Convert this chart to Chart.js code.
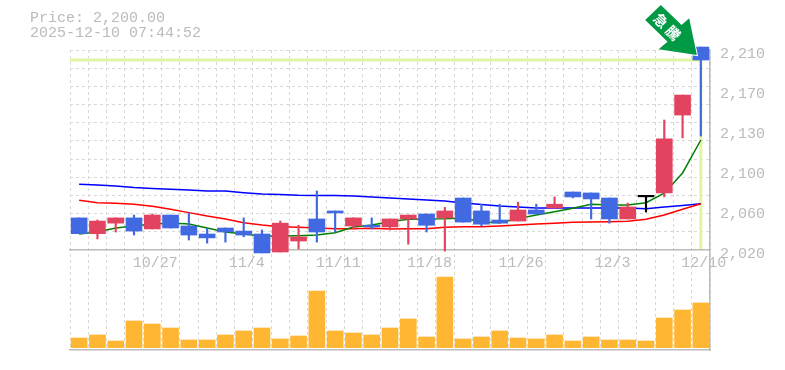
<!DOCTYPE html>
<html lang="ja">
<head>
<meta charset="utf-8">
<title>Price chart</title>
<script src="https://cdn.jsdelivr.net/npm/chart.js@4/dist/chart.umd.min.js"></script>
<style>
  html, body { margin: 0; padding: 0; background: #fff; }
  #wrap { width: 785px; height: 370px; }
</style>
</head>
<body>
<div id="wrap"><canvas id="price-chart" width="785" height="370"></canvas></div>
<script>
const titleLines = ["Price: 2,200.00", "2025-12-10 07:44:52"];
const badgeText = ["急", "騰"];

const dates = [
  "10/21", "10/22", "10/23", "10/24", "10/27", "10/28", "10/29", "10/30", "10/31", "11/4",
  "11/5", "11/6", "11/7", "11/10", "11/11", "11/12", "11/13", "11/14", "11/17", "11/18",
  "11/19", "11/20", "11/21", "11/25", "11/26", "11/27", "11/28", "12/1", "12/2", "12/3",
  "12/4", "12/5", "12/8", "12/9", "12/10",
];

const opens = [
  2050, 2035, 2045, 2050, 2039.5, 2052.7, 2042.3, 2034.7, 2040.4, 2037.5,
  2034.7, 2017.6, 2028, 2049, 2056.6, 2042.3, 2043, 2041.4, 2049, 2053.7,
  2050, 2068.9, 2056.6, 2048, 2047, 2057.5, 2059.4, 2074.6, 2073.7, 2068.9,
  2049, 2070, 2073.7, 2147.7, 2212.3,
];
const closes = [
  2035, 2047, 2050, 2037.5, 2052.7, 2040.4, 2033.7, 2031, 2036.6, 2033.7,
  2016.7, 2045, 2031.9, 2036.6, 2054.7, 2050, 2041.4, 2049, 2052.7, 2043,
  2056.6, 2046, 2044, 2045, 2057.5, 2053.7, 2063, 2069.9, 2068, 2049,
  2060.4, 2070, 2125, 2166.7, 2200,
];
const highs = [
  2050, 2048, 2050, 2052.7, 2053.7, 2052.7, 2054.6, 2040, 2040.4, 2050,
  2038.5, 2047, 2043, 2075.6, 2056.6, 2050, 2050, 2049, 2052.7, 2053.7,
  2060, 2068.9, 2063, 2063, 2065, 2063, 2069.9, 2074.6, 2073.7, 2068.9,
  2064, 2070, 2143, 2166.7, 2212.3,
];
const lows = [
  2035, 2030, 2036.6, 2033.7, 2039.5, 2040.4, 2029, 2026, 2027, 2032,
  2016.7, 2017.6, 2020.5, 2027, 2036.6, 2039.5, 2039.5, 2038.5, 2025, 2036.6,
  2018.5, 2046, 2042.3, 2045, 2047, 2053.7, 2059.4, 2069, 2049, 2045,
  2049, 2055.6, 2070, 2126, 2127.8,
];
const volumes = [
  97, 127, 67, 267, 237, 197, 77, 77, 127, 167,
  197, 87, 117, 567, 167, 147, 127, 197, 287, 107,
  707, 87, 107, 167, 97, 87, 127, 67, 107, 77,
  77, 67, 297, 377, 447,
];
const maShort = [
  2034.7, 2036.6, 2040.4, 2042.3, 2044.2, 2045.2, 2044.2, 2040.4, 2036.6, 2034.7,
  2032.8, 2032.8, 2033.1, 2033.7, 2035.9, 2041.4, 2043.3, 2046.4, 2048.7, 2049,
  2049.3, 2050, 2046, 2045.4, 2049.3, 2052.7, 2055.9, 2059.1, 2062.9, 2062.3,
  2062.3, 2064.4, 2073.4, 2092.7, 2124,
];
const maMid = [
  2066.7, 2064.4, 2063.9, 2062.9, 2061, 2058.2, 2055, 2051.8, 2049, 2045.4,
  2043.3, 2041.6, 2041, 2040.4, 2039.8, 2039.8, 2040.2, 2039.5, 2039.8, 2039.8,
  2041, 2041.6, 2041.6, 2042.3, 2043.3, 2044.2, 2044.9, 2045.8, 2046.1, 2046.4,
  2046.8, 2048.7, 2052.7, 2058.2, 2063.5,
];
const maLong = [
  2081.9, 2081.3, 2080.3, 2078.9, 2077.9, 2077.2, 2076.5, 2075.6, 2075.6, 2074,
  2072.7, 2072.2, 2071.5, 2071.3, 2071.3, 2070.8, 2069.9, 2068.9, 2068, 2067,
  2066.1, 2064.2, 2062.7, 2061.3, 2060.4, 2059.4, 2059.4, 2059.4, 2059.4, 2059.4,
  2059.4, 2058.7, 2060.3, 2061.8, 2063.5,
];

const yTickValues = [2019.5, 2057.5, 2095.5, 2133.5, 2171.5, 2209.5];
const yTickLabels = ["2,020", "2,060", "2,100", "2,130", "2,170", "2,210"];
const currentPrice = 2200;

const UP = "#e2445f";
const DOWN = "#4169e1";
const FLAT = "#000000";
const GRID = "#d8d8d8";
const AXIS = "#bbbbbb";
const TEXT = "#bbbbbb";
const MONO = '"Liberation Mono", monospace';

const candleColors = opens.map((o, i) => (closes[i] > o ? UP : closes[i] < o ? DOWN : FLAT));

// Price takes the top 200px of the plot, volume the bottom 100px. One long scale for each.
const priceMax = 2209.5;
const priceMin = 1924.5;
const gridStep = 190 / 11;

// Pale current price cross, under the candles.
const priceCross = {
  id: "priceCross",
  beforeDatasetsDraw(chart) {
    const { ctx, scales, chartArea } = chart;
    const y = scales.y.getPixelForValue(currentPrice);
    const x = scales.x.getPixelForValue(dates.length - 1);
    ctx.save();
    ctx.strokeStyle = "#e2f5a2";
    ctx.lineWidth = 3;
    ctx.beginPath();
    ctx.moveTo(chartArea.left, y);
    ctx.lineTo(x, y);
    ctx.lineTo(x, scales.y.getPixelForValue(yTickValues[0]) - 1);
    ctx.stroke();
    ctx.restore();
  },
};

// Header text and the green badge arrow pointing at the last candle.
const overlay = {
  id: "overlay",
  afterDraw(chart) {
    const { ctx, scales } = chart;
    ctx.save();
    ctx.fillStyle = TEXT;
    ctx.font = "15px " + MONO;
    ctx.textAlign = "left";
    ctx.textBaseline = "middle";
    ctx.fillText(titleLines[0], 30, 18);
    ctx.fillText(titleLines[1], 30, 33);

    const tipX = scales.x.getPixelForValue(dates.length - 1) - 4;
    const tipY = scales.y.getPixelForValue(currentPrice) - 5;
    const arrow = [[-36, -50], [-15.3, -30], [-7.7, -36.7], [0, 0], [-38.3, -5.7], [-29.3, -13.3], [-51.7, -35]];
    ctx.beginPath();
    arrow.forEach(([dx, dy], i) => {
      if (i === 0) ctx.moveTo(tipX + dx, tipY + dy);
      else ctx.lineTo(tipX + dx, tipY + dy);
    });
    ctx.closePath();
    ctx.lineWidth = 2;
    ctx.strokeStyle = "#ffffff";
    ctx.stroke();
    ctx.fillStyle = "#009944";
    ctx.fill();

    ctx.fillStyle = "#ffffff";
    ctx.font = 'bold 14px "Noto Sans CJK JP", sans-serif';
    ctx.textAlign = "center";
    ctx.textBaseline = "middle";
    [[-36, -34.3], [-23.6, -22]].forEach(([dx, dy], i) => {
      ctx.save();
      ctx.translate(tipX + dx, tipY + dy);
      ctx.rotate(Math.PI / 4);
      ctx.fillText(badgeText[i], 0, 0);
      ctx.restore();
    });
    ctx.restore();
  },
};

const fixWidth = (w) => (scale) => { scale.width = w; };

new Chart(document.getElementById("price-chart").getContext("2d"), {
  data: {
    labels: dates,
    datasets: [
      { type: "bar", data: closes.map((c, i) => [opens[i], c]), yAxisID: "y", order: 1, clip: false,
        backgroundColor: candleColors, barThickness: 16, grouped: false, minBarLength: 1.5 },
      { type: "bar", data: highs.map((h, i) => [lows[i], h]), yAxisID: "y", order: 2, clip: false,
        backgroundColor: candleColors, barThickness: 1.5, grouped: false },
      { type: "bar", data: volumes, yAxisID: "yVol", order: 3,
        backgroundColor: "#ffb733", barThickness: 16, grouped: false },
      { type: "line", data: maShort, yAxisID: "y", order: 4, borderColor: "#008000", borderWidth: 1.5, pointRadius: 0, tension: 0 },
      { type: "line", data: maMid, yAxisID: "y", order: 5, borderColor: "#ff0000", borderWidth: 1.5, pointRadius: 0, tension: 0 },
      { type: "line", data: maLong, yAxisID: "y", order: 6, borderColor: "#0000ff", borderWidth: 1.5, pointRadius: 0, tension: 0 },
    ],
  },
  plugins: [priceCross, overlay],
  options: {
    responsive: false,
    animation: false,
    events: [],
    layout: { padding: { left: 70, top: 50, bottom: 20, right: 0 } },
    plugins: { legend: { display: false }, tooltip: { enabled: false } },
    scales: {
      x: {
        type: "category",
        offset: true,
        position: { y: yTickValues[0] },
        grid: { color: GRID, offset: true, drawTicks: false, lineWidth: 1 },
        border: { color: AXIS, width: 1.5, dash: [3, 3] },
        ticks: {
          autoSkip: false,
          maxRotation: 0,
          padding: 4,
          labelOffset: 3,
          color: TEXT,
          font: { family: MONO, size: 15 },
          callback: (value, index) => (index % 5 === 4 ? dates[index] : ""),
        },
      },
      // Only here for the solid line under the volume bars.
      xBottom: {
        type: "category",
        axis: "x",
        position: "bottom",
        grid: { display: false, drawTicks: false },
        border: { color: AXIS, width: 1.5 },
        ticks: { display: false },
      },
      y: {
        position: "right",
        min: priceMin,
        max: priceMax,
        afterBuildTicks: (scale) => { scale.ticks = yTickValues.map((value) => ({ value })); },
        afterFit: fixWidth(75),
        grid: { display: false, drawTicks: false },
        border: { color: AXIS, width: 1.5 },
        ticks: {
          padding: 10,
          labelOffset: 4,
          color: TEXT,
          font: { family: MONO, size: 15 },
          callback: (value, index) => yTickLabels[index],
        },
      },
      yGrid: {
        position: "right",
        min: priceMin,
        max: priceMax,
        afterBuildTicks: (scale) => {
          const ticks = [];
          for (let k = 0; k < 11; k++) ticks.push({ value: priceMax - gridStep * k });
          scale.ticks = ticks;
        },
        afterFit: fixWidth(0),
        grid: { color: GRID, drawTicks: false, lineWidth: 1 },
        border: { display: false, dash: [3, 3] },
        ticks: { display: false },
      },
      yVol: { display: false, min: -23, max: 2977 },
    },
  },
});
</script>
</body>
</html>
